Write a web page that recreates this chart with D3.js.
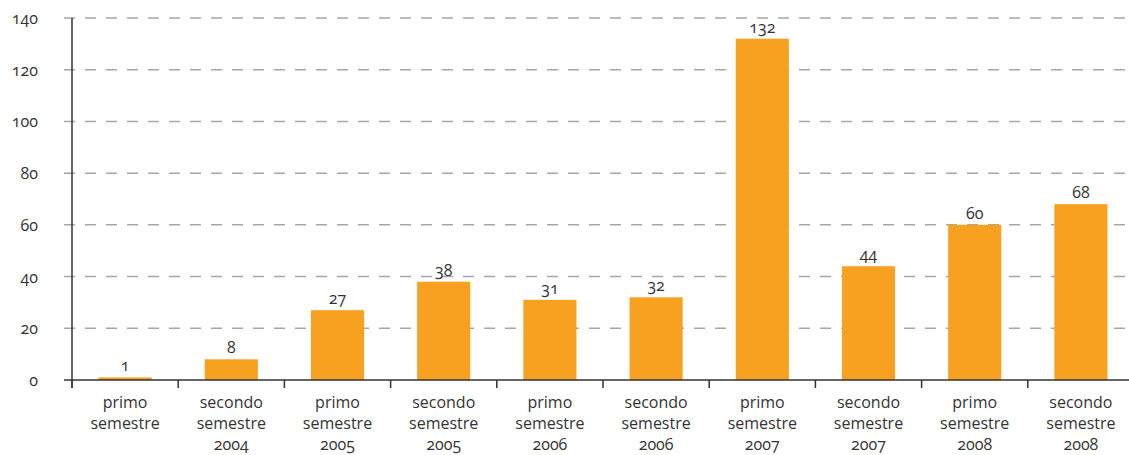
<!DOCTYPE html>
<html><head><meta charset="utf-8">
<script src="https://cdn.jsdelivr.net/npm/d3@7"></script>
<style>
body{margin:0;background:#fff;}
text{font-family:"Open Sans","Noto Sans",sans-serif;fill:#333;font-variant-numeric:oldstyle-nums;}
</style></head><body>
<svg id="c" width="1129" height="455"></svg>
<script>
const categories = [
  ["primo","semestre",""],
  ["secondo","semestre","2004"],
  ["primo","semestre","2005"],
  ["secondo","semestre","2005"],
  ["primo","semestre","2006"],
  ["secondo","semestre","2006"],
  ["primo","semestre","2007"],
  ["secondo","semestre","2007"],
  ["primo","semestre","2008"],
  ["secondo","semestre","2008"]
];
const values = [1, 8, 27, 38, 31, 32, 132, 44, 60, 68];
const yTicks = [0, 20, 40, 60, 80, 100, 120, 140];

(function(){
const svg = d3.select("#c");
const mL = 72, mR = 1134, mT = 18, mB = 380;
const x = d3.scaleBand().domain(d3.range(categories.length)).range([mL, mR]).padding(0);
const y = d3.scaleLinear().domain([0, 140]).range([mB, mT]);

svg.append("g").selectAll("line").data(yTicks.filter(d => d > 0)).join("line")
  .attr("x1", 64).attr("x2", 1127)
  .attr("y1", d => y(d)).attr("y2", d => y(d))
  .attr("stroke", "#a6a6a6").attr("stroke-width", 1.5)
  .attr("stroke-dasharray", "11,10");

svg.append("g").selectAll("text").data(yTicks).join("text")
  .attr("x", 38).attr("y", d => y(d) + 6)
  .attr("text-anchor", "end").attr("font-size", 16)
  .text(d => d);

const bw = x.bandwidth() * 0.5;
svg.append("g").selectAll("rect").data(values).join("rect")
  .attr("x", (d, i) => x(i) + x.bandwidth() / 2 - bw / 2)
  .attr("width", bw)
  .attr("y", d => y(d))
  .attr("height", d => y(0) - y(d))
  .attr("fill", "#f8a01f");

svg.append("g").selectAll("text").data(values).join("text")
  .attr("x", (d, i) => x(i) + x.bandwidth() / 2)
  .attr("y", d => y(d) - 6)
  .attr("text-anchor", "middle").attr("font-size", 16)
  .text(d => d);

svg.append("line").attr("x1", 64).attr("x2", mR).attr("y1", y(0)).attr("y2", y(0))
  .attr("stroke", "#333").attr("stroke-width", 1.5);
svg.append("line").attr("x1", mL).attr("x2", mL).attr("y1", mT).attr("y2", y(0) + 8)
  .attr("stroke", "#333").attr("stroke-width", 1.5);
svg.append("g").selectAll("line").data(d3.range(categories.length)).join("line")
  .attr("x1", i => x(i)).attr("x2", i => x(i))
  .attr("y1", y(0)).attr("y2", y(0) + 8)
  .attr("stroke", "#333").attr("stroke-width", 1.5);

const cg = svg.append("g").selectAll("text").data(categories).join("text")
  .attr("text-anchor", "middle").attr("font-size", 16)
  .attr("x", (d, i) => x(i) + x.bandwidth() / 2);
cg.selectAll("tspan").data(d => d).join("tspan")
  .attr("x", function(){ return d3.select(this.parentNode).attr("x"); })
  .attr("y", (d, j) => 408 + j * 21)
  .text(d => d);
})();
</script></body></html>
